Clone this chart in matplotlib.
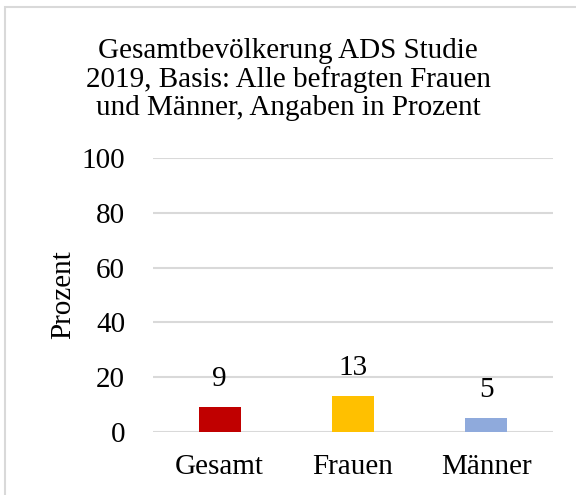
import matplotlib
matplotlib.use("Agg")
import matplotlib.pyplot as plt
from matplotlib.patches import Rectangle

# Daten aus der Grafik
categories = ["Gesamt", "Frauen", "Männer"]
values = [9, 13, 5]
bar_colors = ["#C00000", "#FFC000", "#8FAADC"]
y_ticks = [0, 20, 40, 60, 80, 100]

plt.rcParams['font.family'] = ['Liberation Serif', 'DejaVu Serif']

fig = plt.figure(figsize=(5.76, 4.95), dpi=100)
ax = fig.add_axes([0.2656, 0.1273, 0.6944, 0.5535])

x = range(len(categories))
bars = ax.bar(x, values, width=0.315, color=bar_colors, zorder=3)

for b, v in zip(bars, values):
    ax.annotate(str(v), (b.get_x() + b.get_width() / 2, v),
                xytext=(0, 11), textcoords="offset points",
                ha="center", va="bottom", fontsize=21, color="#000000")

ax.set_xlim(-0.5, len(categories) - 0.5)
ax.set_ylim(0, 100)
ax.set_yticks(y_ticks)
ax.set_xticks(list(x))
ax.set_xticklabels(categories)
ax.tick_params(axis="both", length=0, labelsize=21, colors="#000000")
ax.tick_params(axis="y", pad=20)
ax.tick_params(axis="x", pad=16)
ax.yaxis.grid(True, color="#D9D9D9", linewidth=1.5, zorder=0)
for s in ax.spines.values():
    s.set_visible(False)

ax.set_ylabel("Prozent", fontsize=21, labelpad=4)

fig.text(0.5, 0.84,
         "Gesamtbevölkerung ADS Studie\n2019, Basis: Alle befragten Frauen\nund Männer, Angaben in Prozent",
         ha="center", va="center", fontsize=21, linespacing=1.1)

# Rahmen um das Diagramm
fig.patches.append(Rectangle((0.009, -0.01), 1.0, 0.996, transform=fig.transFigure,
                             fill=False, edgecolor="#D9D9D9", linewidth=1.5))

fig.savefig("out.png", dpi=100)
